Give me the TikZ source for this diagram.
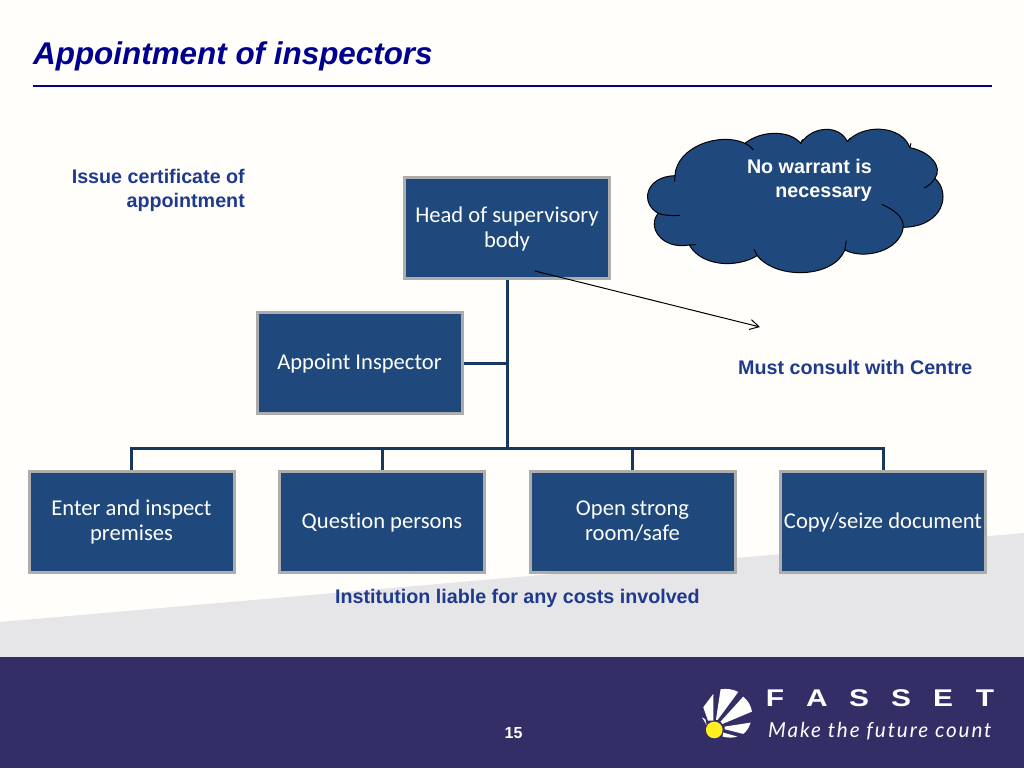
\documentclass[tikz,border=0pt]{standalone}
\usepackage{fontspec}
\setmainfont{Liberation Sans}
\newfontfamily\boxfont[Ligatures=NoCommon]{Carlito}
\newfontfamily\slogfont[LetterSpace=9]{Lato}
\usetikzlibrary{arrows.meta}
\definecolor{bgcream}{HTML}{FFFEFA}
\definecolor{bandgrey}{HTML}{E6E5E7}
\definecolor{footer}{HTML}{332E66}
\definecolor{boxblue}{HTML}{1F497D}
\definecolor{boxedge}{HTML}{ADADAD}
\definecolor{linkblue}{HTML}{17375E}
\definecolor{titleblue}{HTML}{000090}
\definecolor{labelblue}{HTML}{1F3A8C}
\definecolor{sunyellow}{HTML}{FFF01E}
\newcommand{\wideletter}[1]{\makebox[42pt]{\scalebox{1.3}[1.05]{#1}}}
\newcommand{\boxtext}[1]{\raisebox{-1.5pt}[\height][\depth]{\begin{tabular}{@{}c@{}}#1\end{tabular}}}
\tikzset{
  orgbox/.style={draw=boxedge,fill=boxblue,line width=3pt,minimum width=205pt,minimum height=101pt,
    text=bgcream,font=\boxfont\fontsize{22.6}{25}\selectfont,inner sep=0pt,outer sep=1.5pt},
  link/.style={draw=linkblue,line width=3pt},
  label/.style={text=labelblue,font=\fontsize{19.7}{24}\selectfont\bfseries,inner sep=0pt},
  petal/.style={fill=white,draw=none},
}
\begin{document}
\begin{tikzpicture}[x=1pt,y=-1pt]
\useasboundingbox (0,0) rectangle (1024,768);
\fill[bgcream] (0,0) rectangle (1024,768);
\fill[bandgrey] (0,622) -- (1024,533) -- (1024,660) -- (0,660) -- cycle;
\fill[footer] (0,657) rectangle (1024,768);

\node[anchor=west,inner sep=0pt,text=titleblue,font=\fontsize{31.4}{36}\selectfont\bfseries\itshape] (title) at (33,56) {Appointment of inspectors};
\coordinate (ruleL) at (33,86);
\coordinate (ruleR) at (992,86);
\draw[titleblue,line width=2.5pt] (ruleL) -- (ruleR);

% cloud
\begin{scope}[x=0.3333pt,y=-0.3333pt,shift={(1890,330)}]
\draw[fill=boxblue,draw=black,line width=1pt]
  (135,197) .. controls (140,110) and (270,65) .. (345,100)
  .. controls (395,60) and (480,60) .. (512,100)
  .. controls (550,45) and (630,45) .. (652,95)
  .. controls (700,40) and (815,45) .. (840,113)
  .. controls (900,125) and (940,170) .. (915,205)
  .. controls (965,250) and (940,350) .. (820,352)
  .. controls (810,425) and (700,450) .. (645,420)
  .. controls (610,505) and (440,510) .. (382,437)
  .. controls (320,475) and (215,470) .. (178,405)
  .. controls (95,420) and (50,350) .. (85,310)
  .. controls (30,280) and (45,200) .. (135,197) -- cycle;
\draw[black,line width=1pt]
  (345,100) .. controls (355,105) and (365,112) .. (370,120)
  (512,100) -- (518,88)
  (652,95) -- (662,84)
  (840,113) -- (843,100)
  (915,205) .. controls (908,218) and (895,228) .. (883,234)
  (820,352) .. controls (822,320) and (790,298) .. (755,283)
  (645,420) -- (649,392)
  (382,437) -- (372,418)
  (178,405) -- (198,404)
  (85,310) .. controls (100,316) and (125,318) .. (150,316)
  (135,197) -- (134,215);
\end{scope}
\node[anchor=north east,align=right,inner sep=0pt,text=bgcream,font=\fontsize{19.7}{24}\selectfont\bfseries] (cloudtext) at (872,159) {No warrant is\\necessary};

\node[orgbox] (head) at (507,228) {\boxtext{Head of supervisory\\body}};
\node[orgbox] (appoint) at (359.5,363) {\boxtext{Appoint Inspector}};
\node[orgbox] (enter) at (131.5,521.5) {\boxtext{Enter and inspect\\premises}};
\node[orgbox] (question) at (382,521.5) {\boxtext{Question persons}};
\node[orgbox] (open) at (632.5,521.5) {\boxtext{Open strong\\room/safe}};
\node[orgbox] (copy) at (883,521.5) {\boxtext{Copy/seize document}};

\coordinate (bus) at (507,448);
\draw[link] (head.south) -- (bus);
\draw[link] (appoint.east) -- (appoint.east -| head.south);
\draw[link,line cap=rect] (enter.north |- bus) -- (copy.north |- bus);
\draw[link] (enter.north |- bus) -- (enter.north);
\draw[link] (question.north |- bus) -- (question.north);
\draw[link] (open.north |- bus) -- (open.north);
\draw[link] (copy.north |- bus) -- (copy.north);

\coordinate (arrowfrom) at (535,271);
\coordinate (arrowto) at (760,327);
\draw[black,line width=1pt,-{Straight Barb[length=9pt,width=10pt]}] (arrowfrom) -- (arrowto);

\node[label,anchor=north east,align=right] (issue) at (245,169.5) {Issue certificate of\\appointment};
\node[label,anchor=west] (consult) at (738,367.5) {Must consult with Centre};
\node[label,anchor=west] (liable) at (335,598) {Institution liable for any costs involved};

\node[text=white,inner sep=0pt,font=\fontsize{16}{18}\selectfont\bfseries] (page) at (513.5,733) {15};

% logo
\begin{scope}[x=0.3333pt,y=-0.3333pt,shift={(2040,2010)}]
\fill[petal] (70,112) -- (100,72) -- (100,152) -- (84,152) -- cycle;
\fill[petal] (122,58) .. controls (140,55) and (160,58) .. (175,66) -- (113,150) -- (108,150) -- cycle;
\fill[petal] (190,80) .. controls (205,92) and (213,108) .. (216,125) -- (128,162) -- (122,155) -- cycle;
\fill[petal] (212,158) .. controls (208,172) and (200,184) .. (190,192) -- (134,178) -- (134,170) -- cycle;
\fill[petal] (130,188) -- (172,200) .. controls (160,204) and (145,204) .. (128,200) -- cycle;
\fill[petal] (66,142) -- (76,148) -- (80,165) -- cycle;
\fill[sunyellow] (103,180) circle (25);
\end{scope}
\node[anchor=center,text=white,inner sep=0pt,font=\fontsize{23}{26}\selectfont\bfseries] (brand) at (880,698.5)
  {\wideletter{F}\wideletter{A}\wideletter{S}\wideletter{S}\wideletter{E}\wideletter{T}};
\node[anchor=west,text=white,inner sep=0pt,font=\slogfont\fontsize{20.7}{24}\selectfont\itshape] (slogan) at (768,731) {Make the future count};
\end{tikzpicture}
\end{document}
